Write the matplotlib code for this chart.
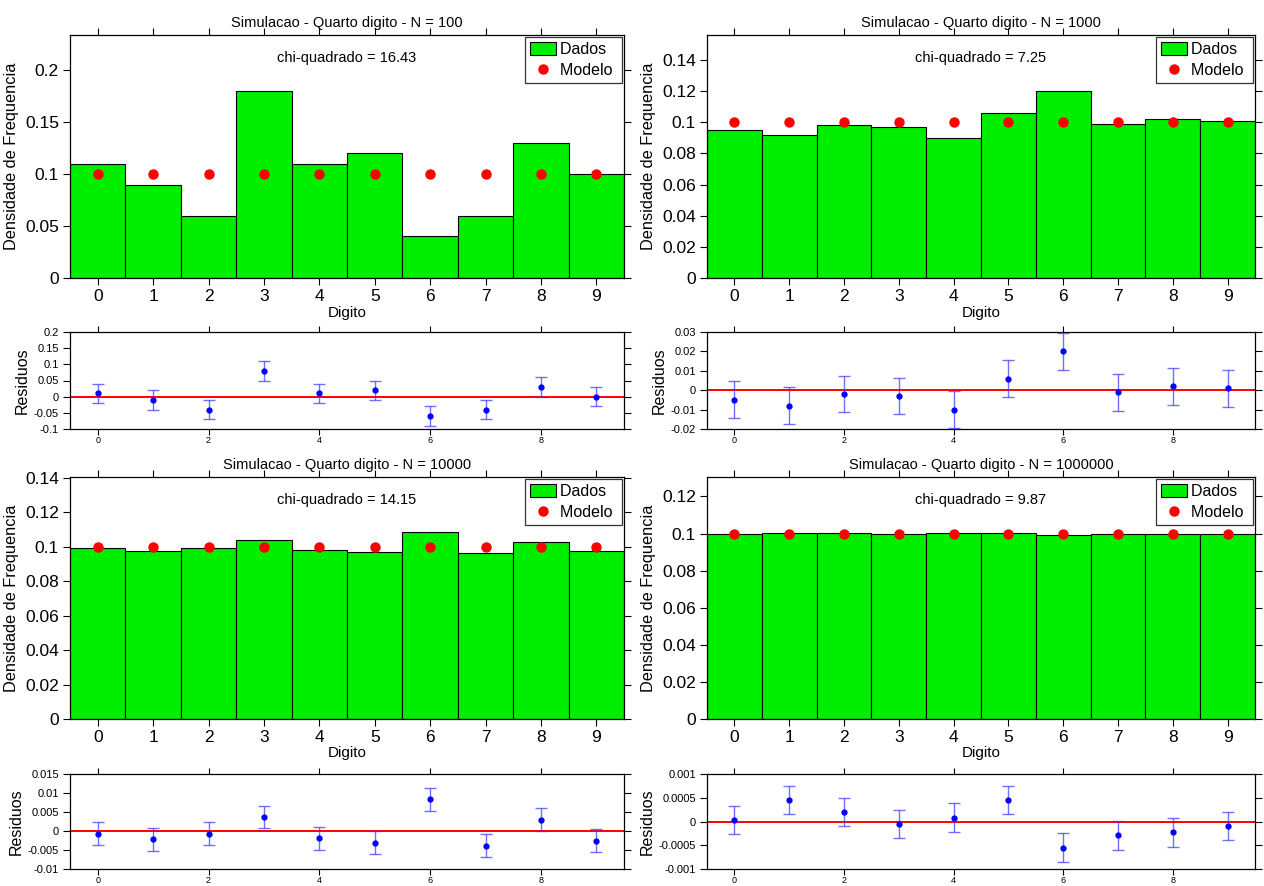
import numpy as np
import matplotlib
matplotlib.use("Agg")
import matplotlib.pyplot as plt
from matplotlib.ticker import FuncFormatter
from matplotlib.patches import Patch
from matplotlib.lines import Line2D

plt.rcParams['font.family'] = ['Liberation Sans', 'DejaVu Sans']

# Digits 0..9 and the uniform model probability for each one
digits = list(range(10))
model_prob = 0.1

sample_sizes = [100, 1000, 10000, 1000000]
chi_values = ["16.43", "7.25", "14.15", "9.87"]

dens_100 = [0.11, 0.09, 0.06, 0.18, 0.11, 0.12, 0.04, 0.06, 0.13, 0.10]
dens_1000 = [0.095, 0.092, 0.098, 0.097, 0.090, 0.106, 0.120, 0.099, 0.102, 0.101]
dens_10000 = [0.0993, 0.0978, 0.0993, 0.1037, 0.0981, 0.0969, 0.1083, 0.0961, 0.1030, 0.0975]
dens_1000000 = [0.10003, 0.10045, 0.10020, 0.09995, 0.10008, 0.10045, 0.09945, 0.09971,
                0.09977, 0.09991]
densities = [dens_100, dens_1000, dens_10000, dens_1000000]

# y ranges / tick steps for the main and residual panels
bar_ylim = [(0, 0.234), (0, 0.156), (0, 0.1405), (0, 0.1305)]
bar_ticks = [np.arange(0, 0.2001, 0.05), np.arange(0, 0.1401, 0.02),
             np.arange(0, 0.1401, 0.02), np.arange(0, 0.1201, 0.02)]
res_ylim = [(-0.1, 0.2), (-0.02, 0.03), (-0.01, 0.015), (-0.001, 0.001)]
res_ticks = [np.arange(-0.1, 0.2001, 0.05), np.arange(-0.02, 0.03001, 0.01),
             np.arange(-0.01, 0.01501, 0.005), np.arange(-0.001, 0.001001, 0.0005)]

W, H = 1264, 886
fig = plt.figure(figsize=(W / 100, H / 100), dpi=100)
fig.patch.set_facecolor('white')


def box(x0, y0, x1, y1):
    return [x0 / W, (H - y1) / H, (x1 - x0) / W, (y1 - y0) / H]


cols = [(70, 624), (707, 1255)]
rows_bar = [(35, 278), (477, 719)]
rows_res = [(332, 429), (774, 869)]

fmt = FuncFormatter(lambda v, p: ("%g" % round(v, 6)) if abs(v) > 1e-12 else "0")

GREEN = '#00ee00'


def style_axes(ax, ticksize):
    ax.tick_params(direction='out', top=True, right=True, length=5, width=0.8,
                   labelsize=ticksize, labeltop=False, labelright=False, pad=3)
    for s in ax.spines.values():
        s.set_linewidth(0.9)
        s.set_color('black')


for i, N in enumerate(sample_sizes):
    c = cols[i % 2]
    r = i // 2
    dens = np.array(densities[i])
    model = np.full(len(digits), model_prob)

    ax = fig.add_axes(box(c[0], rows_bar[r][0], c[1], rows_bar[r][1]))
    ax.bar(digits, dens, width=1.0, color=GREEN, edgecolor='black', linewidth=0.8, zorder=2)
    ax.plot(digits, model, 'o', color='#ff0000', markersize=6.5, zorder=3)
    ax.set_xlim(-0.5, 9.5)
    ax.set_ylim(*bar_ylim[i])
    ax.set_xticks(digits)
    ax.set_yticks(bar_ticks[i])
    ax.yaxis.set_major_formatter(fmt)
    style_axes(ax, 12.5)
    ax.set_title("Simulacao - Quarto digito - N = %d" % N, fontsize=10.5, pad=6)
    ax.set_xlabel("Digito", fontsize=11, labelpad=1)
    ax.set_ylabel("Densidade de Frequencia", fontsize=11.8, labelpad=4)
    ax.text(0.5, 0.905, "chi-quadrado = " + chi_values[i], transform=ax.transAxes,
            ha='center', va='center', fontsize=10.5)
    handles = [Patch(facecolor=GREEN, edgecolor='black', linewidth=0.8),
               Line2D([], [], marker='o', linestyle='none', color='#ff0000', markersize=6.5)]
    leg = ax.legend(handles, ["Dados ", "Modelo "], loc='upper right', fontsize=11.5,
                    frameon=True, fancybox=False, framealpha=1, edgecolor='#333333',
                    borderaxespad=0.15, handlelength=1.6, handleheight=0.9,
                    handletextpad=0.25, borderpad=0.3, labelspacing=0.35)
    leg.get_frame().set_linewidth(0.9)

    # residuals with binomial standard errors
    resid = dens - model
    sigma = np.sqrt(model_prob * (1 - model_prob) / N)
    axr = fig.add_axes(box(c[0], rows_res[r][0], c[1], rows_res[r][1]))
    axr.axhline(0, color='#ff0000', linewidth=1.4, zorder=1)
    axr.errorbar(digits, resid, yerr=sigma, fmt='o', color='#0000ff', markersize=3.5,
                 ecolor=(0.2, 0.2, 1.0, 0.7), elinewidth=1.0, capsize=4, capthick=1.0,
                 zorder=3)
    axr.set_xlim(-0.5, 9.5)
    axr.set_ylim(*res_ylim[i])
    axr.set_xticks([0, 2, 4, 6, 8])
    axr.set_yticks(res_ticks[i])
    axr.yaxis.set_major_formatter(fmt)
    style_axes(axr, 8)
    axr.tick_params(axis='x', labelsize=6.5, length=4, pad=1)
    axr.set_ylabel("Residuos", fontsize=11.5, labelpad=3)

fig.savefig("out.png", dpi=100, facecolor='white')
